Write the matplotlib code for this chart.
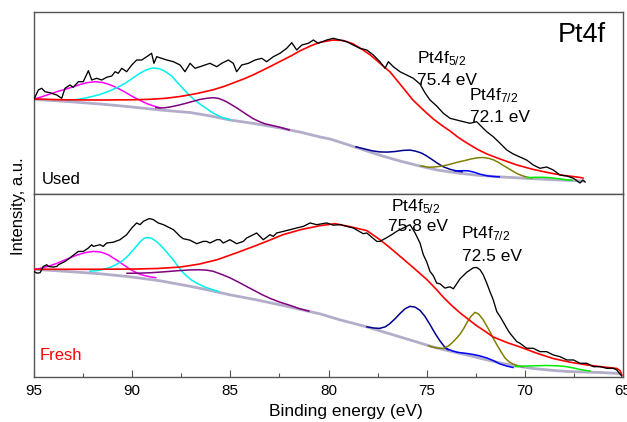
import matplotlib.pyplot as plt

plt.rcParams['font.family'] = ['Liberation Sans', 'DejaVu Sans']
plt.rcParams['mathtext.fontset'] = 'custom'
plt.rcParams['mathtext.rm'] = 'Liberation Sans'
plt.rcParams['mathtext.it'] = 'Liberation Sans'

# ---- Used catalyst (top) ----
used_e = [95.00, 94.78, 94.61, 94.44, 94.19, 93.84, 93.59, 93.42, 93.17, 93.00,
          92.74, 92.49, 92.23, 92.06, 91.81, 91.55, 91.30, 91.04, 90.87, 90.71,
          90.53, 90.28, 90.02, 89.77, 89.51, 89.26, 89.01, 88.89, 88.75, 88.50,
          88.24, 87.90, 87.56, 87.31, 87.05, 86.80, 86.55, 86.29, 86.04, 85.69,
          85.44, 85.10, 84.85, 84.68, 84.42, 84.08, 83.74, 83.40, 83.15, 82.81,
          82.47, 82.13, 81.87, 81.62, 81.36, 81.03, 80.77, 80.52, 80.09, 79.76,
          79.41, 79.07, 78.74, 78.40, 78.05, 77.72, 77.38, 77.12, 76.95, 76.70,
          76.36, 76.02, 75.68, 75.34, 75.08, 74.83, 74.49, 74.15, 73.81, 73.47,
          73.13, 72.79, 72.45, 72.20, 71.94, 71.61, 71.26, 70.92, 70.59, 70.25,
          69.91, 69.57, 69.23, 68.89, 68.55, 68.21, 67.86, 67.52, 67.19, 67.04,
          66.93]
used_i = [95.0, 104.3, 106.0, 102.6, 101.6, 99.3, 96.0, 106.0, 109.3, 107.0,
          112.6, 112.6, 123.6, 114.3, 116.0, 114.3, 117.0, 118.3, 122.6, 121.0,
          126.0, 122.6, 129.3, 134.3, 134.3, 137.6, 141.0, 131.0, 137.6, 136.0,
          134.3, 132.6, 129.3, 122.6, 131.0, 126.0, 127.6, 129.3, 131.0, 127.6,
          131.0, 134.3, 131.0, 122.6, 129.3, 131.0, 134.3, 136.0, 132.6, 137.6,
          141.0, 146.0, 151.6, 144.3, 149.3, 151.0, 154.3, 151.0, 154.3, 156.0,
          154.3, 152.6, 149.3, 146.0, 144.3, 139.3, 132.6, 126.0, 132.6, 127.6,
          122.6, 119.3, 116.0, 110.3, 101.3, 94.3, 88.3, 81.0, 76.0, 74.3,
          72.6, 71.0, 72.6, 67.6, 62.6, 57.6, 51.0, 44.3, 40.3, 37.3,
          34.3, 29.3, 26.0, 27.3, 24.3, 19.3, 18.3, 16.0, 11.3, 14.3,
          12.3]

used_bg_e = [95.00, 93.3, 91.64, 90.1, 88.58, 87.05, 86.0, 85.02, 83.7, 82.47,
             81.4, 80.43, 79.92, 79.0, 78.04, 77.2, 76.36, 75.4, 74.47, 73.4,
             72.28, 71.3, 70.25, 69.2, 68.21, 67.04]
used_bg_i = [95.0, 92.8, 90.3, 87.5, 84.3, 81.8, 78.3, 74.3, 70.5, 66.3,
             62.0, 57.3, 55.3, 49.5, 43.3, 38.0, 33.3, 28.5, 24.3, 21.2,
             18.8, 17.5, 16.3, 15.2, 14.3, 13.3]

used_env_e = [95.00, 93.5, 91.64, 90.0, 89.09, 88.3, 87.56, 86.7, 85.88, 85.3,
              84.86, 84.3, 83.85, 83.1, 82.32, 81.87, 81.45, 80.9, 80.43, 79.77,
              79.26, 78.75, 78.24, 77.9, 77.58, 77.2, 76.87, 76.36, 75.70, 75.17,
              74.66, 74.2, 73.81, 73.4, 72.95, 72.4, 71.93, 71.26, 70.40, 69.6,
              68.72, 68.0, 67.34, 67.04]
used_env_i = [95.3, 94.5, 94.3, 94.5, 95.0, 96.0, 97.8, 100.8, 104.5, 108.0,
              111.3, 115.5, 119.3, 126.5, 134.3, 138.8, 143.5, 148.5, 152.0, 154.3,
              153.8, 150.5, 144.3, 139.8, 134.5, 128.0, 122.5, 110.3, 94.3, 84.3,
              75.3, 68.5, 63.3, 57.0, 51.3, 44.8, 40.3, 35.3, 29.3, 25.0,
              21.3, 18.8, 17.3, 16.3]

used_mag_e = [95.00, 94.6, 94.19, 93.8, 93.33, 93.0, 92.66, 92.3, 91.89, 91.5,
              91.2, 90.98, 90.7, 90.47, 90.2, 89.96, 89.7, 89.45, 89.2, 88.9,
              88.58]
used_mag_i = [95.3, 97.5, 100.3, 102.8, 105.5, 107.5, 109.8, 111.6, 112.6, 111.8,
              110.0, 108.3, 105.8, 103.3, 100.3, 97.5, 95.0, 92.5, 90.3, 88.3,
              86.5]

used_cyan_e = [93.33, 92.9, 92.5, 92.1, 91.64, 91.2, 90.79, 90.4, 89.96, 89.65,
               89.35, 89.1, 88.89, 88.6, 88.33, 88.0, 87.73, 87.4, 87.05, 86.8,
               86.55, 86.2, 85.88, 85.5, 85.02]
used_cyan_i = [94.3, 94.6, 95.8, 97.5, 99.8, 103.0, 106.5, 110.5, 116.3, 120.5,
               123.8, 125.7, 126.3, 125.5, 123.0, 118.5, 112.6, 105.5, 98.3, 94.0,
               90.3, 85.5, 81.3, 77.5, 74.5]

used_pur_e = [88.8, 88.58, 88.3, 88.0, 87.6, 87.21, 86.9, 86.55, 86.2, 85.88,
              85.6, 85.27, 85.0, 84.66, 84.3, 83.85, 83.5, 83.23, 82.9, 82.47,
              82.0]
used_pur_i = [86.8, 86.3, 86.6, 87.6, 89.3, 91.3, 93.0, 94.8, 96.0, 96.6,
              95.9, 93.3, 90.3, 86.3, 81.5, 75.8, 72.5, 70.5, 69.0, 67.0,
              64.4]

used_navy_e = [78.6, 78.2, 77.8, 77.4, 77.0, 76.6, 76.2, 75.85, 75.59, 75.3,
               75.08, 74.8, 74.47, 74.15, 73.81, 73.5, 73.2]
used_navy_i = [47.5, 45.5, 43.6, 42.4, 42.2, 42.8, 43.9, 44.2, 43.3, 41.5,
               39.3, 35.8, 31.3, 27.5, 25.0, 23.5, 22.5]

used_blue_e = [73.56, 73.2, 72.89, 72.6, 72.3, 71.93, 71.6, 71.3]
used_blue_i = [23.3, 23.6, 23.5, 22.2, 20.2, 18.5, 17.8, 17.4]

used_olive_e = [75.3, 74.9, 74.5, 74.15, 73.81, 73.45, 73.05, 72.7, 72.4, 72.13,
                71.85, 71.6, 71.35, 71.11, 70.85, 70.6, 70.35, 70.09, 69.85, 69.63]
used_olive_i = [28.5, 27.0, 27.5, 28.5, 30.0, 32.0, 33.8, 35.5, 36.5, 36.8,
                36.0, 34.5, 32.0, 29.0, 26.0, 23.0, 20.3, 18.3, 17.0, 16.2]

used_green_e = [69.9, 69.5, 69.1, 68.7, 68.3, 67.95, 67.6]
used_green_i = [16.6, 17.0, 17.0, 16.6, 15.6, 14.6, 14.0]

# ---- Fresh catalyst (bottom) ----
fresh_e = [95.00, 94.86, 94.69, 94.53, 94.35, 94.27, 94.02, 93.84, 93.76, 93.42,
           93.17, 93.08, 92.74, 92.49, 92.23, 92.06, 91.98, 91.64, 91.47, 91.30,
           90.96, 90.62, 90.28, 90.02, 89.77, 89.60, 89.43, 89.18, 89.09, 88.92,
           88.67, 88.41, 88.07, 87.90, 87.73, 87.56, 87.40, 87.05, 86.71, 86.38,
           86.20, 86.04, 85.69, 85.53, 85.36, 85.02, 84.68, 84.34, 84.17, 84.00,
           83.66, 83.32, 82.98, 82.81, 82.64, 82.30, 81.96, 81.62, 81.28, 80.94,
           80.60, 80.09, 79.76, 79.41, 79.07, 78.74, 78.23, 78.05, 77.54, 77.38,
           77.04, 76.70, 76.53, 76.19, 75.85, 75.59, 75.34, 75.17, 75.00, 74.83,
           74.66, 74.49, 74.32, 74.07, 73.81, 73.64, 73.30, 72.96, 72.62, 72.45,
           72.28, 72.12, 71.94, 71.78, 71.61, 71.43, 71.26, 70.92, 70.76, 70.41,
           70.25, 69.91, 69.57, 69.23, 68.89, 68.55, 68.21, 67.86, 67.52, 67.19,
           66.85, 66.51, 66.17, 65.83, 65.50, 65.32, 65.07]
fresh_i = [105.0, 103.4, 103.7, 110.0, 111.7, 110.0, 109.4, 110.0, 111.7, 115.0,
           118.4, 120.0, 125.0, 125.0, 128.4, 131.7, 130.0, 131.7, 130.0, 133.4,
           134.2, 136.7, 141.7, 148.4, 153.4, 151.7, 155.0, 157.4, 157.7, 156.7,
           153.4, 151.7, 148.4, 146.7, 143.4, 140.0, 137.7, 136.2, 132.7, 135.0,
           135.0, 133.4, 136.7, 136.7, 133.4, 136.7, 132.7, 135.0, 138.4, 140.0,
           143.4, 136.7, 141.7, 140.0, 143.4, 145.0, 146.7, 148.4, 150.0, 153.4,
           151.7, 153.4, 151.2, 151.7, 150.0, 148.4, 142.7, 143.4, 135.0, 135.0,
           138.7, 142.7, 145.0, 148.4, 151.7, 143.4, 133.4, 121.7, 114.7, 105.0,
           100.7, 93.4, 92.7, 88.4, 89.7, 87.7, 97.7, 104.2, 108.7, 109.0,
           106.7, 101.7, 93.4, 85.0, 76.7, 65.0, 60.0, 48.4, 43.4, 35.0,
           33.4, 28.4, 28.4, 25.0, 25.0, 21.7, 20.0, 16.7, 16.7, 13.4,
           13.4, 10.0, 10.0, 8.4, 8.4, 6.7, 0.7]

fresh_bg_e = [95.00, 93.3, 91.64, 90.11, 88.58, 87.05, 86.0, 85.02, 83.7, 82.47,
              81.4, 80.43, 79.41, 78.04, 77.2, 76.36, 75.5, 74.68, 73.8, 72.95,
              72.1, 71.26, 70.4, 69.58, 68.7, 67.85, 66.17, 65.16]
fresh_bg_i = [107.2, 105.0, 102.7, 99.7, 95.7, 90.2, 86.0, 81.7, 76.8, 71.7,
              67.0, 62.7, 56.7, 49.7, 44.7, 39.7, 34.6, 29.7, 25.5, 21.7,
              17.6, 13.7, 10.6, 8.2, 6.5, 5.2, 4.2, 3.2]

fresh_env_e = [95.00, 92.0, 89.96, 88.7, 87.56, 86.6, 85.68, 84.7, 83.85, 83.0,
               82.32, 81.4, 80.43, 79.67, 78.90, 78.04, 77.38, 76.87, 76.51, 75.85,
               75.4, 74.98, 74.55, 74.17, 73.75, 73.30, 72.85, 72.44, 72.0, 71.62,
               70.9, 70.25, 69.4, 68.57, 67.7, 66.83, 66.0, 65.31, 65.15, 65.06]
fresh_env_i = [107.2, 107.2, 107.4, 108.0, 109.4, 112.3, 116.7, 123.5, 129.7, 136.2,
               141.7, 146.8, 150.7, 152.7, 149.7, 145.7, 136.7, 128.7, 122.7, 111.7,
               104.0, 96.7, 88.0, 79.7, 71.5, 63.7, 56.8, 50.7, 45.0, 39.7,
               34.0, 29.7, 23.5, 18.2, 14.5, 11.7, 9.7, 8.2, 6.0, 1.7]

fresh_mag_e = [95.00, 94.6, 94.19, 93.85, 93.52, 93.15, 92.76, 92.4, 91.99, 91.7,
               91.49, 91.2, 90.98, 90.75, 90.52, 90.3, 90.11, 89.85, 89.60, 89.35,
               89.09, 88.8]
fresh_mag_i = [106.7, 108.5, 110.7, 113.0, 115.7, 118.8, 121.7, 123.8, 125.0, 124.7,
               123.7, 121.5, 118.7, 115.8, 112.7, 109.8, 107.2, 104.5, 102.2, 100.8,
               99.7, 98.8]

fresh_cyan_e = [92.15, 91.64, 91.13, 90.8, 90.47, 90.2, 89.9, 89.6, 89.4, 89.24,
                89.0, 88.74, 88.5, 88.23, 87.95, 87.72, 87.5, 87.31, 87.0, 86.70,
                86.3, 85.88, 85.6]
fresh_cyan_i = [105.2, 106.2, 109.0, 112.0, 116.0, 120.8, 127.5, 134.5, 138.0, 139.0,
                138.0, 134.5, 130.0, 124.0, 117.5, 111.5, 106.0, 102.0, 96.8, 93.2,
                89.5, 86.7, 85.0]

fresh_pur_e = [90.26, 89.7, 89.09, 88.4, 87.72, 87.1, 86.55, 86.2, 85.88, 85.5,
               85.02, 84.6, 84.2, 83.85, 83.4, 82.98, 82.5, 81.96, 81.5, 81.0]
fresh_pur_i = [103.2, 103.3, 103.7, 104.6, 105.7, 106.5, 106.7, 106.3, 105.2, 102.5,
               98.7, 94.5, 90.3, 86.7, 82.0, 78.2, 74.5, 71.2, 68.0, 65.4]

fresh_navy_e = [78.04, 77.7, 77.4, 77.12, 76.9, 76.6, 76.36, 76.1, 75.85, 75.6,
                75.34, 75.1, 74.83, 74.55, 74.32, 74.1, 73.91]
fresh_navy_i = [49.7, 48.6, 48.2, 49.7, 52.5, 58.0, 63.0, 67.8, 70.2, 69.5,
                66.2, 60.5, 52.0, 42.5, 35.7, 30.0, 27.0]

fresh_blue_e = [74.07, 73.7, 73.40, 73.0, 72.64, 72.3, 71.93, 71.6, 71.26, 70.9, 70.60]
fresh_blue_i = [28.7, 25.8, 24.2, 23.3, 22.2, 20.8, 18.7, 16.0, 12.7, 10.5, 9.2]

fresh_olive_e = [74.9, 74.5, 74.17, 73.9, 73.66, 73.45, 73.30, 73.1, 72.95, 72.75,
                 72.54, 72.35, 72.13, 71.95, 71.78, 71.6, 71.42, 71.2, 71.01, 70.8,
                 70.60, 70.35, 70.09]
fresh_olive_i = [30.8, 28.6, 28.2, 30.5, 34.7, 39.0, 42.5, 48.5, 54.0, 60.0,
                 64.2, 62.5, 57.0, 51.0, 45.0, 38.0, 31.7, 24.5, 18.7, 14.8,
                 12.7, 10.8, 9.7]

fresh_green_e = [70.5, 70.1, 69.74, 69.3, 68.87, 68.4, 67.95, 67.55, 67.19, 66.9, 66.68]
fresh_green_i = [10.2, 10.5, 10.7, 11.0, 11.2, 10.9, 10.2, 8.8, 7.2, 6.3, 5.7]

xticks = [95, 90, 85, 80, 75, 70, 65]
xminor = [92.5, 87.5, 82.5, 77.5, 72.5, 67.5]


def draw_panel(ax, bg, comps, env, data):
    ax.plot(*bg, color='#b3adc9', lw=2.0, zorder=2)
    for (e, i), c in comps:
        ax.plot(e, i, color=c, lw=1.1, zorder=3)
    ax.plot(*env, color='#ff0000', lw=1.2, zorder=4)
    ax.plot(*data, color='black', lw=0.95, zorder=5)
    ax.set_xlim(95, 65)
    ax.set_ylim(0, 182)
    ax.set_yticks([])
    for s in ax.spines.values():
        s.set_color('#555555')
        s.set_linewidth(1.0)


fig = plt.figure(figsize=(6.27, 4.22), dpi=100)
ax1 = fig.add_axes([34 / 627, 1 - 194.3 / 422, 589 / 627, 182 / 422])
ax2 = fig.add_axes([34 / 627, 1 - 376.7 / 422, 589 / 627, 182.4 / 422])

draw_panel(ax1, (used_bg_e, used_bg_i),
           [((used_mag_e, used_mag_i), '#ff00ff'),
            ((used_cyan_e, used_cyan_i), '#00f0f0'),
            ((used_pur_e, used_pur_i), '#800080'),
            ((used_navy_e, used_navy_i), '#000090'),
            ((used_blue_e, used_blue_i), '#0000ff'),
            ((used_olive_e, used_olive_i), '#808000'),
            ((used_green_e, used_green_i), '#00ee00')],
           (used_env_e, used_env_i), (used_e, used_i))
draw_panel(ax2, (fresh_bg_e, fresh_bg_i),
           [((fresh_mag_e, fresh_mag_i), '#ff00ff'),
            ((fresh_cyan_e, fresh_cyan_i), '#00f0f0'),
            ((fresh_pur_e, fresh_pur_i), '#800080'),
            ((fresh_navy_e, fresh_navy_i), '#000090'),
            ((fresh_blue_e, fresh_blue_i), '#0000ff'),
            ((fresh_olive_e, fresh_olive_i), '#808000'),
            ((fresh_green_e, fresh_green_i), '#00ee00')],
           (fresh_env_e, fresh_env_i), (fresh_e, fresh_i))

ax1.set_xticks([])
ax2.set_xticks(xticks)
ax2.set_xticks(xminor, minor=True)
ax2.tick_params(axis='x', which='major', direction='in', length=5, width=0.8,
                color='#555555', labelsize=11, pad=5)
ax2.tick_params(axis='x', which='minor', direction='in', length=3, width=0.8,
                color='#555555')

ax1.text(94.61, 10.0, 'Used', fontsize=12, color='black')
ax2.text(94.69, 16.7, 'Fresh', fontsize=12, color='#ff0000')
ax1.text(65.87, 152.6, 'Pt4f', fontsize=19.5, ha='right')

ax1.text(75.49, 131.3, r'Pt4f$_{5/2}$', fontsize=12.5)
ax1.text(75.49, 109.3, '75.4 eV', fontsize=12.5)
ax1.text(72.84, 94.3, r'Pt4f$_{7/2}$', fontsize=12.5)
ax1.text(72.79, 72.6, '72.1 eV', fontsize=12.5)

ax2.text(76.83, 165.0, r'Pt4f$_{5/2}$', fontsize=12.5)
ax2.text(76.97, 145.0, '75.8 eV', fontsize=12.5)
ax2.text(73.27, 138.4, r'Pt4f$_{7/2}$', fontsize=12.5)
ax2.text(73.22, 115.0, '72.5 eV', fontsize=12.5)

fig.text(0.551, 0.0237, 'Binding energy (eV)', fontsize=12.5, ha='center', va='center')
fig.text(0.0303, 0.5118, 'Intensity, a.u.', fontsize=12, rotation=90, ha='center', va='center')

fig.savefig('out.png', dpi=100)
